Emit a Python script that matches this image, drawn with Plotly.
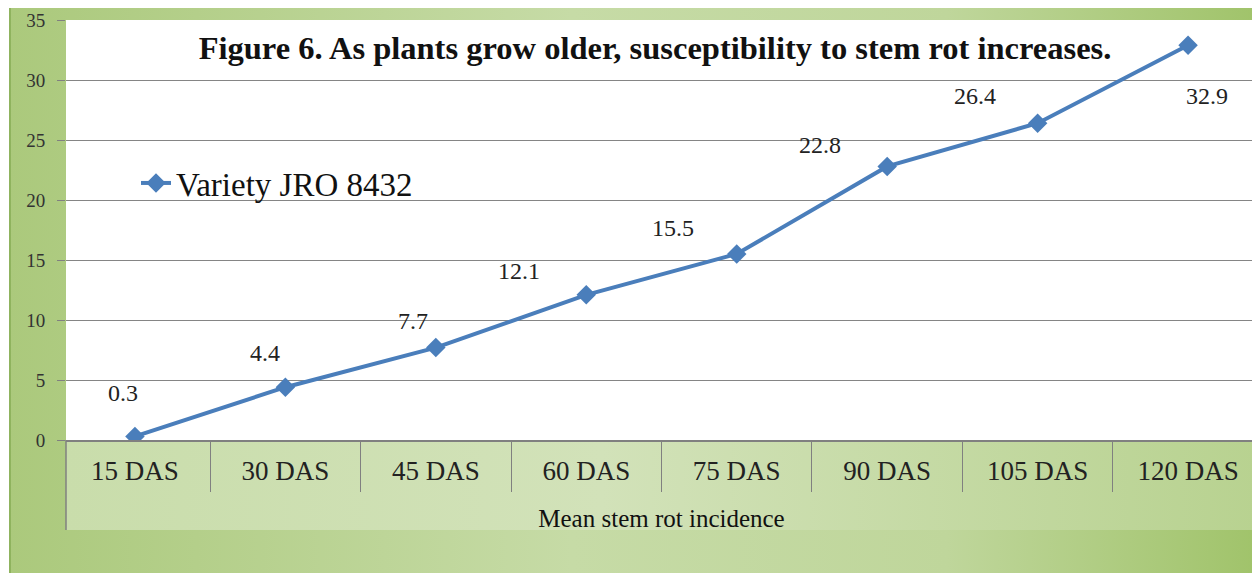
import base64
import plotly.graph_objects as go

# ---- data ----
categories = ["15 DAS", "30 DAS", "45 DAS", "60 DAS", "75 DAS", "90 DAS", "105 DAS", "120 DAS"]
incidence = [0.3, 4.4, 7.7, 12.1, 15.5, 22.8, 26.4, 32.9]
series_name = "Variety JRO 8432"
title_text = "Figure 6. As plants grow older, susceptibility to stem rot increases."
x_title = "Mean stem rot incidence"
y_ticks = [0, 5, 10, 15, 20, 25, 30, 35]

# ---- style ----
OFF = 8  # page body margin of the html page
W, H = 1260 - OFF, 573 - OFF
ML, MR, MT, MB = 66 - OFF, 3, 20 - OFF, 133
PW = W - ML - MR
PH = H - MT - MB
SERIF = "Liberation Serif"
BLUE = "#4a7ebb"
# label offsets (pixels) for each data label
label_dx = [-12, -20, -23, -67, -64, -67, -63, 19]
label_dy = [43, 34, 27, 24, 26, 21, 27, -51]


def px_to_paper_x(px):  # px in screen coords
    return (px - OFF - ML) / PW


def px_to_paper_y(py):
    return (H - MB - (py - OFF)) / PH


# background gradient (decorative), as SVG
svg = f"""<svg xmlns='http://www.w3.org/2000/svg' width='{W}' height='{H}' viewBox='0 0 {W} {H}' preserveAspectRatio='none'>
<defs>
<linearGradient id='g' x1='0' y1='0' x2='1' y2='0'>
<stop offset='0' stop-color='#abc97c'/>
<stop offset='0.45' stop-color='#c6dba6'/>
<stop offset='0.75' stop-color='#bfd69b'/>
<stop offset='1' stop-color='#a0c36a'/>
</linearGradient>
<linearGradient id='c' x1='0' y1='0' x2='1' y2='0'>
<stop offset='0' stop-color='#c9ddab'/>
<stop offset='0.45' stop-color='#d2e2b9'/>
<stop offset='1' stop-color='#b8d290'/>
</linearGradient>
</defs>
<rect x='0' y='0' width='{W}' height='{H}' fill='#ffffff'/>
<rect x='1' y='0' width='{W-1}' height='{H}' fill='url(#g)'/>
<rect x='1' y='0' width='2' height='{H}' fill='#8fb35e'/>
<rect x='{ML}' y='{H-MB}' width='{PW}' height='90' fill='url(#c)'/>
</svg>"""
svg_uri = "data:image/svg+xml;base64," + base64.b64encode(svg.encode()).decode()

fig = go.Figure()
fig.add_trace(go.Scatter(
    x=categories, y=incidence, mode="lines+markers", name=series_name,
    line=dict(color=BLUE, width=4),
    marker=dict(symbol="diamond", size=15, color=BLUE),
))

for c, v, dx, dy in zip(categories, incidence, label_dx, label_dy):
    fig.add_annotation(x=c, y=v, xref="x", yref="y", text=f"{v}", showarrow=False,
                       xshift=dx, yshift=dy,
                       font=dict(family=SERIF, size=24, color="#222222"))

fig.add_layout_image(dict(
    source=svg_uri, xref="paper", yref="paper",
    x=-ML / PW, y=(H - MB) / PH,
    sizex=W / PW, sizey=H / PH, sizing="stretch",
    xanchor="left", yanchor="top", layer="below",
))

# plot area white
fig.add_shape(type="rect", xref="paper", yref="paper", x0=0, x1=1, y0=0, y1=1,
              fillcolor="white", line=dict(width=0), layer="below")
# left axis line extension through category band
fig.add_shape(type="line", xref="paper", yref="paper", x0=0, x1=0,
              y0=0, y1=px_to_paper_y(530), line=dict(color="#808080", width=1.5))

fig.update_layout(
    width=W, height=H,
    margin=dict(l=ML, r=MR, t=MT, b=MB),
    paper_bgcolor="rgba(0,0,0,0)",
    plot_bgcolor="rgba(0,0,0,0)",
    title=dict(text=f"<b>{title_text}</b>", x=(655 - OFF) / W, xanchor="center",
               y=1 - (48 - OFF) / H, yanchor="middle",
               font=dict(family=SERIF, size=32.5, color="#111111")),
    legend=dict(x=px_to_paper_x(136), y=px_to_paper_y(183), xanchor="left", yanchor="middle",
                bgcolor="rgba(0,0,0,0)", font=dict(family=SERIF, size=33, color="#111111")),
    showlegend=True,
    xaxis=dict(
        type="category", categoryorder="array", categoryarray=categories,
        showgrid=False, showline=True, linecolor="#808080", linewidth=1.5,
        ticks="outside", tickson="boundaries", ticklen=50, tickcolor="#808080", tickwidth=1.2,
        ticklabelstandoff=6,
        tickfont=dict(family=SERIF, size=27, color="#222222"),
        title=dict(text=x_title, font=dict(family=SERIF, size=25, color="#111111"), standoff=24),
        automargin=False, zeroline=False,
    ),
    yaxis=dict(
        range=[0, 35], tickvals=y_ticks, showgrid=True, gridcolor="#858585", gridwidth=1,
        zeroline=False, showline=False,
        ticks="outside", ticklen=8, tickcolor="#808080",
        ticklabelstandoff=8,
        tickfont=dict(family=SERIF, size=19, color="#333333"),
        automargin=False,
    ),
)

fig.write_html("out.html")
